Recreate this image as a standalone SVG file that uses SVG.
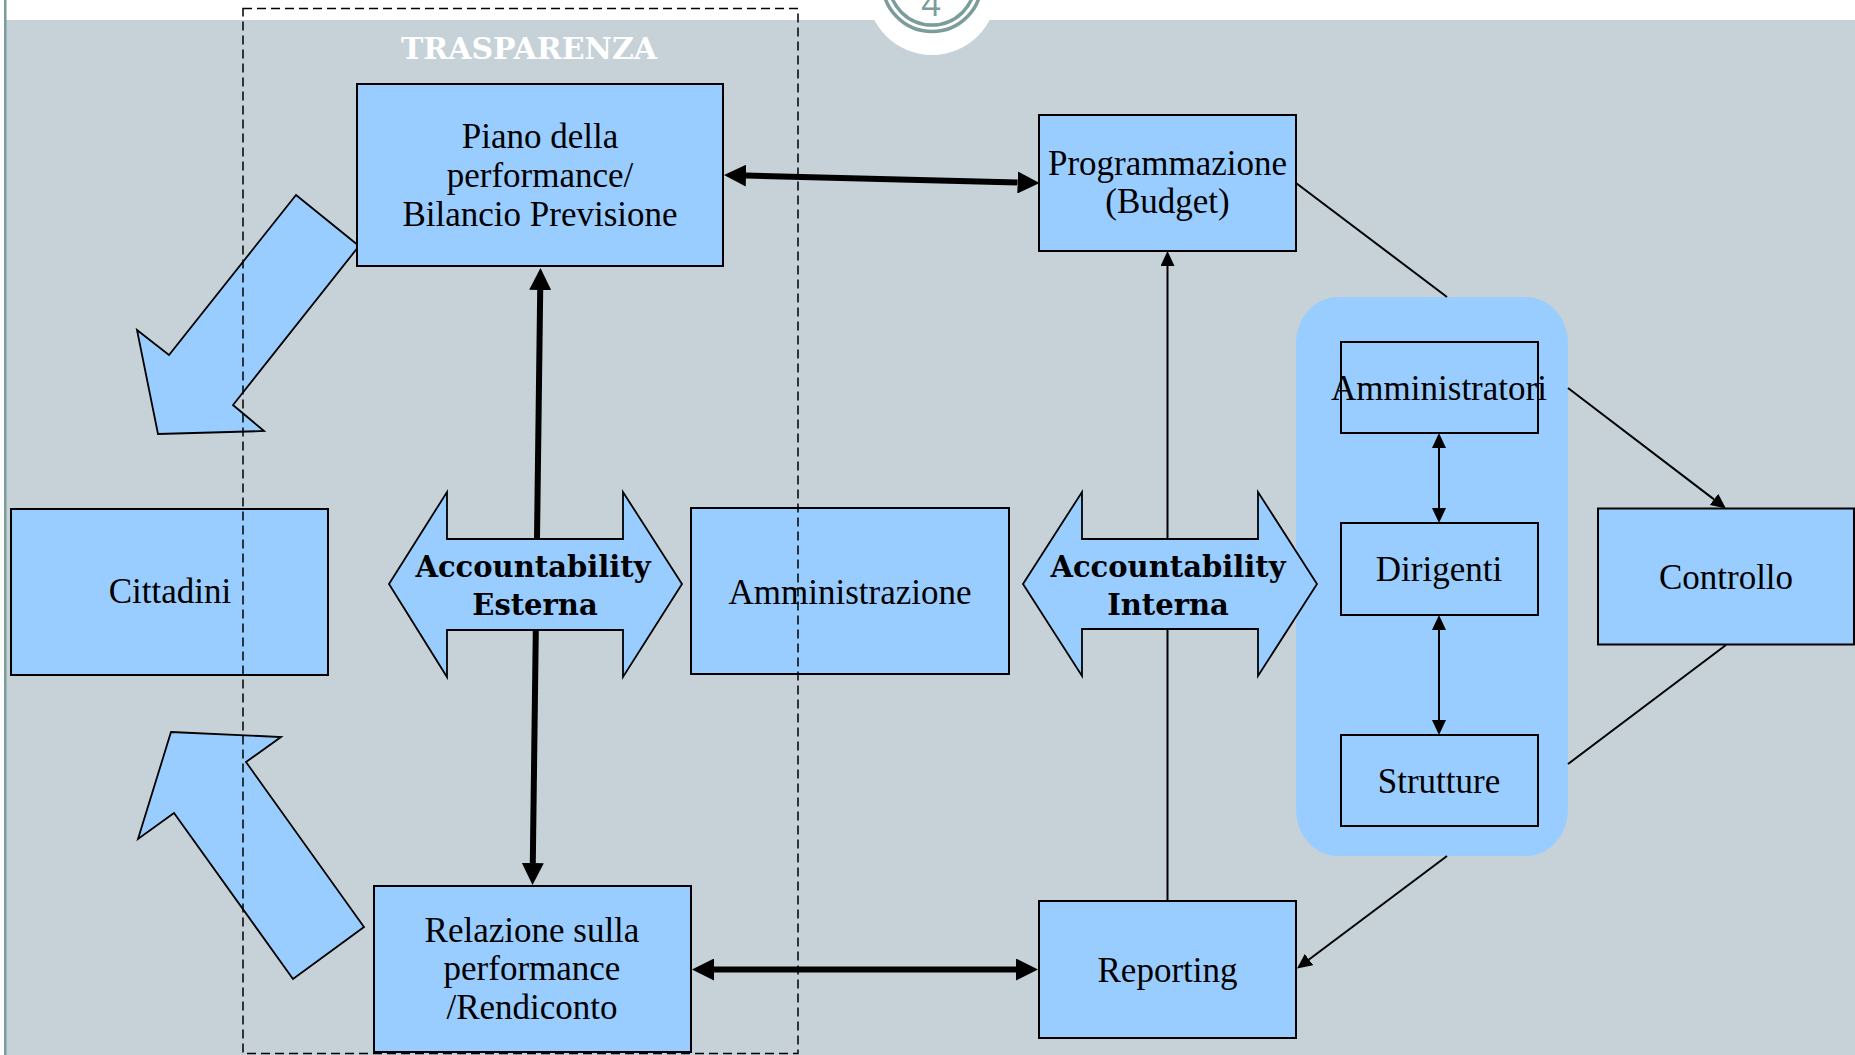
<svg xmlns="http://www.w3.org/2000/svg" width="1855" height="1055" viewBox="0 0 1855 1055">
<defs>
<style>
.box{fill:#99CCFF;stroke:#000;stroke-width:2}
.blk{fill:#99CCFF;stroke:#000;stroke-width:1.8;stroke-linejoin:miter}
.lbl{font-family:"Liberation Serif","Times New Roman",serif;font-size:35px;fill:#000;text-anchor:middle}
.bold{font-family:"DejaVu Serif","Liberation Serif",serif;font-size:29px;font-weight:bold;fill:#000;text-anchor:middle}
.thick{stroke:#000;stroke-width:6;fill:none}
.thin{stroke:#000;stroke-width:2;fill:none}
.ring{fill:none;stroke:#7A9C9A;stroke-width:3.5}
</style>
<marker id="ah" viewBox="0 0 22 22" refX="0" refY="11" markerWidth="22" markerHeight="22" markerUnits="userSpaceOnUse" orient="auto-start-reverse">
<path d="M0,0 L22,11 L0,22 z" fill="#000"/>
</marker>
<marker id="as" viewBox="0 0 15 14" refX="0" refY="7" markerWidth="15" markerHeight="14" markerUnits="userSpaceOnUse" orient="auto-start-reverse">
<path d="M0,0 L15,7 L0,14 z" fill="#000"/>
</marker>
</defs>

<rect x="0" y="0" width="1855" height="1055" fill="#FFFFFF"/>
<rect x="6" y="20" width="1849" height="1035" fill="#C6D2D8"/>
<rect x="4" y="0" width="2.5" height="1055" fill="#7A9C9A"/>

<g id="badge">
<circle cx="932" cy="-10" r="65" fill="#FFFFFF"/>
<circle class="ring" cx="932" cy="-18" r="49.5"/>
<circle class="ring" cx="932" cy="-18" r="43"/>
<text x="931" y="16" font-family="Open Sans, DejaVu Sans, sans-serif" font-size="34" fill="#7A9C9A" text-anchor="middle">4</text>
</g>

<g id="freccia-alto">
<polygon class="blk" points="296,195 359,246 233,405 264,431 158,434 137,330 169,355"/>
</g>
<g id="freccia-basso">
<polygon class="blk" points="171,732 281,737 246,762 364,927 293,979 174,813 138,839"/>
</g>

<g id="gruppo-interno">
<rect x="1296" y="297" width="272" height="559" rx="42" ry="46" fill="#99CCFF"/>
</g>

<g id="connectors">
<line class="thick" x1="540.2" y1="290" x2="532.8" y2="863" marker-start="url(#ah)" marker-end="url(#ah)"/>
<line class="thick" x1="746" y1="175.6" x2="1017.6" y2="182.4" marker-start="url(#ah)" marker-end="url(#ah)"/>
<line class="thick" x1="714" y1="969.5" x2="1016" y2="969.5" marker-start="url(#ah)" marker-end="url(#ah)"/>
<line class="thin" x1="1167.5" y1="901" x2="1167.5" y2="266" marker-end="url(#as)"/>
<line class="thin" x1="1439" y1="448" x2="1439" y2="508" marker-start="url(#as)" marker-end="url(#as)"/>
<line class="thin" x1="1439" y1="630" x2="1439" y2="720" marker-start="url(#as)" marker-end="url(#as)"/>
<line class="thin" x1="1296" y1="183" x2="1447" y2="297"/>
<line class="thin" x1="1568" y1="388" x2="1714" y2="499.4" marker-end="url(#as)"/>
<line class="thin" x1="1726" y1="645" x2="1568" y2="764"/>
<line class="thin" x1="1447" y1="856" x2="1309" y2="959.5" marker-end="url(#as)"/>
</g>

<g id="piano">
<rect class="box" x="357" y="84" width="366" height="182"/>
<text class="lbl" x="540" y="148">Piano della</text>
<text class="lbl" x="540" y="187">performance/</text>
<text class="lbl" x="540" y="226">Bilancio Previsione</text>
</g>

<g id="programmazione">
<rect class="box" x="1039" y="115" width="257" height="136"/>
<text class="lbl" x="1167.5" y="175">Programmazione</text>
<text class="lbl" x="1167.5" y="213">(Budget)</text>
</g>

<g id="cittadini">
<rect class="box" x="11" y="509" width="317" height="166"/>
<text class="lbl" x="170" y="603">Cittadini</text>
</g>

<g id="acc-esterna">
<polygon class="blk" points="389,584 447,492 447,539 623,539 623,492 682,584 623,677 623,630 447,630 447,677"/>
<text class="bold" x="533" y="577">Accountability</text>
<text class="bold" x="535" y="615">Esterna</text>
</g>

<g id="amministrazione">
<rect class="box" x="691" y="508" width="318" height="166"/>
<text class="lbl" x="850" y="604">Amministrazione</text>
</g>

<g id="acc-interna">
<polygon class="blk" points="1023,584 1082,492 1082,539 1258,539 1258,492 1317,584 1258,676 1258,629 1082,629 1082,676"/>
<text class="bold" x="1168" y="577">Accountability</text>
<text class="bold" x="1168" y="615">Interna</text>
</g>

<g id="amministratori">
<rect class="box" x="1341" y="342" width="197" height="91"/>
<text class="lbl" x="1439" y="400">Amministratori</text>
</g>

<g id="dirigenti">
<rect class="box" x="1341" y="523" width="197" height="92"/>
<text class="lbl" x="1439" y="581">Dirigenti</text>
</g>

<g id="strutture">
<rect class="box" x="1341" y="735" width="197" height="91"/>
<text class="lbl" x="1439" y="793">Strutture</text>
</g>

<g id="controllo">
<rect class="box" x="1598" y="508.5" width="256" height="136"/>
<text class="lbl" x="1726" y="589">Controllo</text>
</g>

<g id="relazione">
<rect class="box" x="374" y="886" width="317" height="166"/>
<text class="lbl" x="532" y="942">Relazione sulla</text>
<text class="lbl" x="532" y="980">performance</text>
<text class="lbl" x="532" y="1019">/Rendiconto</text>
</g>

<g id="reporting">
<rect class="box" x="1039" y="901" width="257" height="137"/>
<text class="lbl" x="1167.5" y="982">Reporting</text>
</g>

<g id="trasparenza">
<rect x="243" y="8.5" width="555" height="1045" fill="none" stroke="#000" stroke-width="1.5" stroke-dasharray="9,5"/>
<text x="529" y="59" font-family="DejaVu Serif, Liberation Serif, serif" font-size="30" font-weight="bold" fill="#FFFFFF" text-anchor="middle">TRASPARENZA</text>
</g>
</svg>
